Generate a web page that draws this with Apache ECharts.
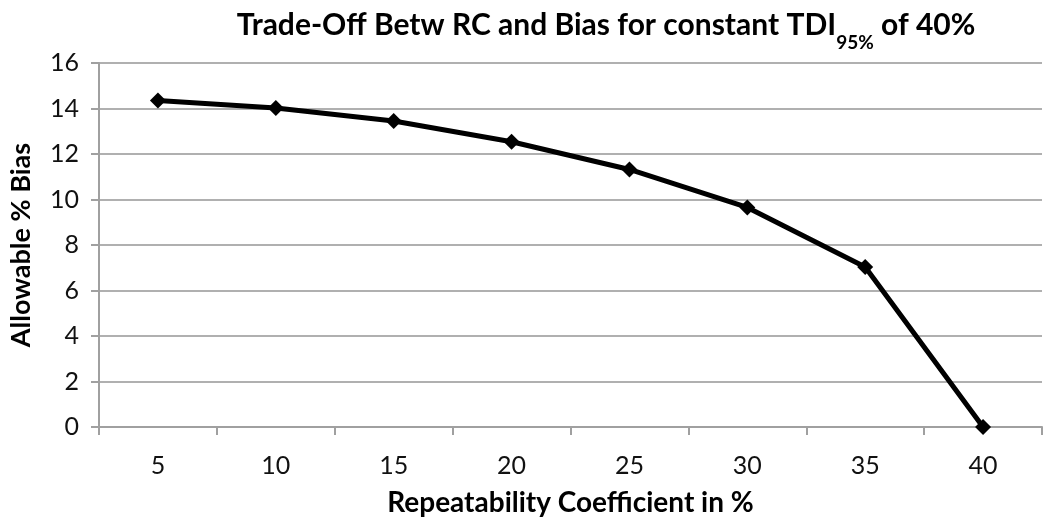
<!DOCTYPE html>
<html><head><meta charset="utf-8">
<script src="https://cdn.jsdelivr.net/npm/echarts@6/dist/echarts.min.js"></script>
<style>html,body{margin:0;padding:0;background:#fff}#c{width:1050px;height:524px}</style>
</head><body><div id="c"></div>
<script>
const categories = ['5','10','15','20','25','30','35','40'];
const biasValues = [14.35, 14.02, 13.45, 12.54, 11.32, 9.65, 7.03, 0];
const yTicks = {min: 0, max: 16, interval: 2};
const FONT = 'Lato, "Open Sans", sans-serif';
const chart = echarts.init(document.getElementById('c'));
chart.setOption({
  animation: false,
  backgroundColor: '#fff',
  title: {
    text: '{m|Trade-Off Betw RC and Bias for constant TDI}{s|95%}{m| of 40%}',
    left: 601, top: 5, textAlign: 'center',
    textStyle: {
      rich: {
        m: {fontFamily: FONT, fontWeight: 'bold', fontSize: 30, color: '#000'},
        s: {fontFamily: FONT, fontWeight: 'bold', fontSize: 19, color: '#000', verticalAlign: 'bottom', padding: [0,0,-12,0]}
      }
    }
  },
  grid: {left: 90, right: 8, top: 63, bottom: 97, containLabel: false},
  xAxis: {
    type: 'category', data: categories, boundaryGap: true,
    name: 'Repeatability Coefficient in %', nameLocation: 'middle', nameGap: 62,
    nameTextStyle: {fontFamily: FONT, fontWeight: 'bold', fontSize: 28, color: '#000'},
    axisLine: {lineStyle: {color: '#a0a0a0', width: 2}},
    axisTick: {show: true, length: 8, lineStyle: {color: '#a0a0a0', width: 2}, alignWithLabel: false},
    axisLabel: {fontFamily: FONT, fontSize: 25, color: '#111', margin: 26}
  },
  yAxis: {
    type: 'value', min: yTicks.min, max: yTicks.max, interval: yTicks.interval,
    name: 'Allowable % Bias', nameLocation: 'middle', nameGap: 64,
    nameTextStyle: {fontFamily: FONT, fontWeight: 'bold', fontSize: 27, color: '#000'},
    axisLine: {show: true, lineStyle: {color: '#a0a0a0', width: 2}},
    axisTick: {show: true, length: 8, lineStyle: {color: '#a0a0a0', width: 2}},
    axisLabel: {fontFamily: FONT, fontSize: 25, color: '#111', margin: 20},
    splitLine: {lineStyle: {color: '#b0b0b0', width: 2}}
  },
  series: [{
    type: 'line', data: biasValues,
    symbol: 'diamond', symbolSize: 16,
    lineStyle: {color: '#000', width: 5},
    itemStyle: {color: '#000'}
  }]
});
</script></body></html>
